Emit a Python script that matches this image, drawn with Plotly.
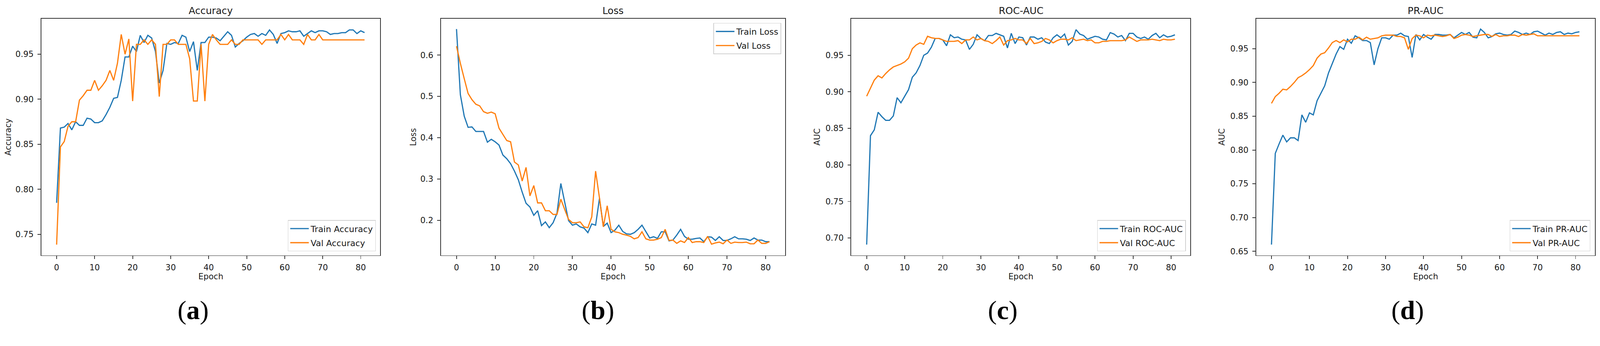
import plotly.graph_objects as go

W, H = 4308, 887
epochs = list(range(82))

acc_train = [0.785, 0.868, 0.869, 0.873, 0.866, 0.875, 0.871, 0.871, 0.879, 0.878,
             0.874, 0.874, 0.876, 0.883, 0.891, 0.901, 0.902, 0.921, 0.947, 0.947,
             0.959, 0.953, 0.971, 0.963, 0.971, 0.968, 0.953, 0.918, 0.932, 0.962,
             0.961, 0.963, 0.962, 0.971, 0.969, 0.953, 0.964, 0.932, 0.963, 0.963,
             0.969, 0.969, 0.968, 0.965, 0.970, 0.975, 0.971, 0.958, 0.962, 0.965,
             0.969, 0.972, 0.973, 0.970, 0.973, 0.971, 0.977, 0.972, 0.962, 0.973,
             0.974, 0.976, 0.975, 0.975, 0.976, 0.970, 0.973, 0.976, 0.974, 0.976,
             0.976, 0.975, 0.972, 0.973, 0.973, 0.974, 0.974, 0.977, 0.977, 0.973,
             0.976, 0.974]
acc_val = [0.7385, 0.847, 0.853, 0.870, 0.875, 0.875, 0.899, 0.904, 0.910, 0.910,
           0.921, 0.910, 0.915, 0.921, 0.932, 0.921, 0.940, 0.972, 0.950, 0.967,
           0.898, 0.961, 0.961, 0.966, 0.961, 0.966, 0.961, 0.903, 0.961, 0.961,
           0.966, 0.966, 0.961, 0.961, 0.961, 0.945, 0.898, 0.898, 0.961, 0.898,
           0.961, 0.972, 0.966, 0.961, 0.961, 0.961, 0.966, 0.961, 0.961, 0.966,
           0.966, 0.966, 0.966, 0.966, 0.961, 0.966, 0.966, 0.966, 0.966, 0.972,
           0.966, 0.972, 0.966, 0.966, 0.966, 0.961, 0.972, 0.966, 0.966, 0.972,
           0.966, 0.966, 0.966, 0.966, 0.966, 0.966, 0.966, 0.966, 0.966, 0.966,
           0.966, 0.966]

loss_train = [0.663, 0.504, 0.452, 0.425, 0.426, 0.415, 0.415, 0.415, 0.389, 0.396,
              0.390, 0.382, 0.358, 0.349, 0.337, 0.319, 0.298, 0.268, 0.241, 0.232,
              0.212, 0.223, 0.187, 0.196, 0.182, 0.194, 0.217, 0.289, 0.244, 0.199,
              0.188, 0.191, 0.184, 0.181, 0.170, 0.191, 0.188, 0.253, 0.185, 0.193,
              0.170, 0.176, 0.188, 0.173, 0.167, 0.166, 0.170, 0.178, 0.188, 0.172,
              0.157, 0.160, 0.156, 0.172, 0.172, 0.150, 0.152, 0.164, 0.178, 0.161,
              0.154, 0.154, 0.156, 0.157, 0.148, 0.160, 0.159, 0.151, 0.160, 0.151,
              0.151, 0.155, 0.160, 0.155, 0.155, 0.154, 0.151, 0.157, 0.152, 0.152,
              0.148, 0.148]
loss_val = [0.6215, 0.580, 0.543, 0.507, 0.492, 0.481, 0.477, 0.463, 0.459, 0.462,
            0.458, 0.423, 0.408, 0.393, 0.390, 0.341, 0.334, 0.295, 0.328, 0.259,
            0.284, 0.242, 0.242, 0.223, 0.223, 0.214, 0.214, 0.251, 0.226, 0.202,
            0.194, 0.194, 0.196, 0.184, 0.182, 0.208, 0.319, 0.254, 0.184, 0.235,
            0.178, 0.172, 0.170, 0.166, 0.164, 0.161, 0.155, 0.158, 0.172, 0.155,
            0.152, 0.152, 0.154, 0.158, 0.178, 0.151, 0.152, 0.144, 0.150, 0.146,
            0.158, 0.146, 0.148, 0.148, 0.146, 0.161, 0.142, 0.145, 0.147, 0.143,
            0.152, 0.144, 0.147, 0.146, 0.146, 0.147, 0.143, 0.143, 0.152, 0.144,
            0.144, 0.148]

roc_train = [0.691, 0.840, 0.848, 0.872, 0.866, 0.861, 0.861, 0.867, 0.892, 0.885,
             0.894, 0.903, 0.920, 0.926, 0.936, 0.950, 0.953, 0.961, 0.973, 0.973,
             0.971, 0.963, 0.978, 0.974, 0.975, 0.972, 0.971, 0.958, 0.965, 0.978,
             0.973, 0.970, 0.977, 0.977, 0.980, 0.978, 0.976, 0.960, 0.980, 0.966,
             0.975, 0.974, 0.964, 0.975, 0.975, 0.972, 0.974, 0.968, 0.966, 0.974,
             0.978, 0.974, 0.979, 0.964, 0.969, 0.985, 0.979, 0.977, 0.972, 0.974,
             0.976, 0.975, 0.972, 0.971, 0.981, 0.979, 0.975, 0.977, 0.970, 0.980,
             0.980, 0.975, 0.973, 0.975, 0.972, 0.977, 0.980, 0.974, 0.978, 0.975,
             0.976, 0.978]
roc_val = [0.894, 0.905, 0.916, 0.922, 0.919, 0.925, 0.930, 0.934, 0.936, 0.938,
           0.941, 0.946, 0.959, 0.964, 0.967, 0.965, 0.976, 0.974, 0.973, 0.973,
           0.971, 0.969, 0.969, 0.969, 0.970, 0.966, 0.971, 0.971, 0.975, 0.971,
           0.973, 0.970, 0.969, 0.966, 0.970, 0.975, 0.964, 0.970, 0.971, 0.973,
           0.971, 0.971, 0.966, 0.973, 0.966, 0.967, 0.969, 0.973, 0.971, 0.967,
           0.970, 0.972, 0.972, 0.971, 0.974, 0.970, 0.971, 0.972, 0.970, 0.971,
           0.967, 0.967, 0.969, 0.969, 0.970, 0.970, 0.970, 0.970, 0.971, 0.975,
           0.972, 0.969, 0.971, 0.971, 0.971, 0.972, 0.971, 0.970, 0.972, 0.971,
           0.971, 0.972]

pr_train = [0.660, 0.795, 0.809, 0.822, 0.812, 0.818, 0.818, 0.814, 0.852, 0.841,
            0.855, 0.852, 0.873, 0.884, 0.895, 0.914, 0.928, 0.942, 0.953, 0.949,
            0.964, 0.958, 0.969, 0.966, 0.962, 0.962, 0.959, 0.926, 0.950, 0.966,
            0.966, 0.964, 0.970, 0.970, 0.973, 0.969, 0.968, 0.937, 0.971, 0.963,
            0.971, 0.967, 0.964, 0.971, 0.971, 0.970, 0.970, 0.971, 0.966, 0.970,
            0.974, 0.971, 0.974, 0.967, 0.966, 0.979, 0.974, 0.966, 0.968, 0.972,
            0.973, 0.971, 0.970, 0.971, 0.976, 0.974, 0.971, 0.973, 0.971, 0.975,
            0.976, 0.973, 0.970, 0.973, 0.971, 0.974, 0.975, 0.971, 0.973, 0.972,
            0.974, 0.975]
pr_val = [0.869, 0.879, 0.884, 0.890, 0.889, 0.894, 0.900, 0.907, 0.910, 0.914,
          0.919, 0.925, 0.936, 0.942, 0.944, 0.951, 0.959, 0.962, 0.959, 0.963,
          0.960, 0.964, 0.964, 0.967, 0.963, 0.967, 0.964, 0.965, 0.966, 0.969,
          0.970, 0.970, 0.970, 0.968, 0.968, 0.966, 0.949, 0.965, 0.970, 0.969,
          0.966, 0.970, 0.969, 0.970, 0.969, 0.968, 0.969, 0.971, 0.965, 0.967,
          0.970, 0.971, 0.970, 0.968, 0.969, 0.970, 0.971, 0.971, 0.968, 0.971,
          0.968, 0.969, 0.969, 0.970, 0.970, 0.968, 0.971, 0.970, 0.971, 0.972,
          0.969, 0.969, 0.969, 0.969, 0.969, 0.969, 0.969, 0.969, 0.969, 0.969,
          0.969, 0.969]

x_ticks = [0, 10, 20, 30, 40, 50, 60, 70, 80]
acc_ticks = [0.75, 0.80, 0.85, 0.90, 0.95]
loss_ticks = [0.2, 0.3, 0.4, 0.5, 0.6]
roc_ticks = [0.70, 0.75, 0.80, 0.85, 0.90, 0.95]
pr_ticks = [0.65, 0.70, 0.75, 0.80, 0.85, 0.90, 0.95]

BLUE = "#1f77b4"
ORANGE = "#ff7f0e"
FONT = "DejaVu Sans"
TXT = "#1a1a1a"
AX = "#333333"


def px(x):
    return x / W


def py(y):
    return 1 - y / H


panels = [
    dict(title="Accuracy", ylabel="Accuracy", train=acc_train, val=acc_val,
         names=("Train Accuracy", "Val Accuracy"), x0=111, x1=1023,
         yrange=[0.7266, 0.9893], ticks=acc_ticks, fmt=".2f", ylab_x=22,
         leg=("bottom", 1012, 679), label="a", label_x=520),
    dict(title="Loss", ylabel="Loss", train=loss_train, val=loss_val,
         names=("Train Loss", "Val Loss"), x0=1187, x1=2114,
         yrange=[0.115, 0.6877], ticks=loss_ticks, fmt=".1f", ylab_x=1113,
         leg=("top", 2103, 62), label="b", label_x=1610),
    dict(title="ROC-AUC", ylabel="AUC", train=roc_train, val=roc_val,
         names=("Train ROC-AUC", "Val ROC-AUC"), x0=2292, x1=3205,
         yrange=[0.6763, 0.9998], ticks=roc_ticks, fmt=".2f", ylab_x=2200,
         leg=("bottom", 3193, 679), label="c", label_x=2700),
    dict(title="PR-AUC", ylabel="AUC", train=pr_train, val=pr_val,
         names=("Train PR-AUC", "Val PR-AUC"), x0=3382, x1=4294,
         yrange=[0.6441, 0.9941], ticks=pr_ticks, fmt=".2f", ylab_x=3290,
         leg=("bottom", 4282, 679), label="d", label_x=3790),
]

TOP, BOT = 51, 690

fig = go.Figure()
layout = dict(width=W, height=H, margin=dict(l=0, r=0, t=0, b=0),
              paper_bgcolor="white", plot_bgcolor="white", showlegend=True,
              font=dict(family=FONT, size=22, color=TXT))
annotations = []

for i, p in enumerate(panels):
    n = i + 1
    xa = "x" if n == 1 else f"x{n}"
    ya = "y" if n == 1 else f"y{n}"
    lg = "legend" if n == 1 else f"legend{n}"
    fig.add_trace(go.Scatter(x=epochs, y=p["train"], mode="lines", name=p["names"][0],
                             line=dict(color=BLUE, width=3.2), xaxis=xa, yaxis=ya,
                             legend=lg, legendgroup=f"p{n}t"))
    fig.add_trace(go.Scatter(x=epochs, y=p["val"], mode="lines", name=p["names"][1],
                             line=dict(color=ORANGE, width=3.2), xaxis=xa, yaxis=ya,
                             legend=lg, legendgroup=f"p{n}v"))
    axis_common = dict(showline=True, mirror=True, linecolor=AX, linewidth=2,
                       ticks="outside", ticklen=8, tickwidth=1.8, tickcolor=AX,
                       showgrid=False, zeroline=False,
                       tickfont=dict(family=FONT, size=22, color=TXT))
    layout["xaxis" if n == 1 else f"xaxis{n}"] = dict(
        domain=[px(p["x0"]), px(p["x1"])], range=[-4.05, 85.05],
        tickmode="array", tickvals=x_ticks, anchor=ya, ticklabelstandoff=4,
        **axis_common)
    layout["yaxis" if n == 1 else f"yaxis{n}"] = dict(
        domain=[py(BOT), py(TOP)], range=p["yrange"], tickmode="array",
        tickvals=p["ticks"], tickformat=p["fmt"], anchor=xa, ticklabelstandoff=6,
        **axis_common)
    pos, lx, ly = p["leg"]
    layout[lg] = dict(x=px(lx), y=py(ly), xanchor="right", yanchor=pos,
                      bgcolor="rgba(255,255,255,0.8)", bordercolor="#d0d0d0",
                      borderwidth=1.5, font=dict(family=FONT, size=23, color=TXT),
                      itemwidth=50, tracegroupgap=5)
    cx = (p["x0"] + p["x1"]) / 2
    annotations.append(dict(text=p["title"], x=px(cx), y=py(29), xref="paper",
                            yref="paper", xanchor="center", yanchor="middle",
                            showarrow=False, font=dict(family=FONT, size=26, color=TXT)))
    annotations.append(dict(text="Epoch", x=px(cx), y=py(747), xref="paper",
                            yref="paper", xanchor="center", yanchor="middle",
                            showarrow=False, font=dict(family=FONT, size=22, color=TXT)))
    annotations.append(dict(text=p["ylabel"], x=px(p["ylab_x"]), y=py((TOP + BOT) / 2),
                            xref="paper", yref="paper", xanchor="center",
                            yanchor="middle", textangle=-90, showarrow=False,
                            font=dict(family=FONT, size=22, color=TXT)))
    annotations.append(dict(text=f"(<b>{p['label']}</b>)", x=px(p["label_x"]),
                            y=py(838), xref="paper", yref="paper", xanchor="center",
                            yanchor="middle", showarrow=False,
                            font=dict(family="Liberation Serif", size=72, color="#000000")))

layout["annotations"] = annotations
fig.update_layout(**layout)

# Fit the fixed-size figure into whatever viewport the browser offers.
fit_js = """
(function(){
  var gd = document.getElementById('{plot_id}');
  document.documentElement.style.margin = '0';
  document.documentElement.style.overflow = 'hidden';
  document.body.style.margin = '0';
  document.body.style.overflow = 'hidden';
  var wrap = gd.parentElement;
  function fit(){
    var s = Math.min(window.innerWidth / %d, window.innerHeight / %d);
    wrap.style.transformOrigin = '0 0';
    wrap.style.transform = 'scale(' + s + ')';
  }
  fit();
  window.addEventListener('resize', fit);
})();
""" % (W, H)

fig.write_html("out.html", post_script=fit_js,
               config={"displayModeBar": False, "responsive": False})
